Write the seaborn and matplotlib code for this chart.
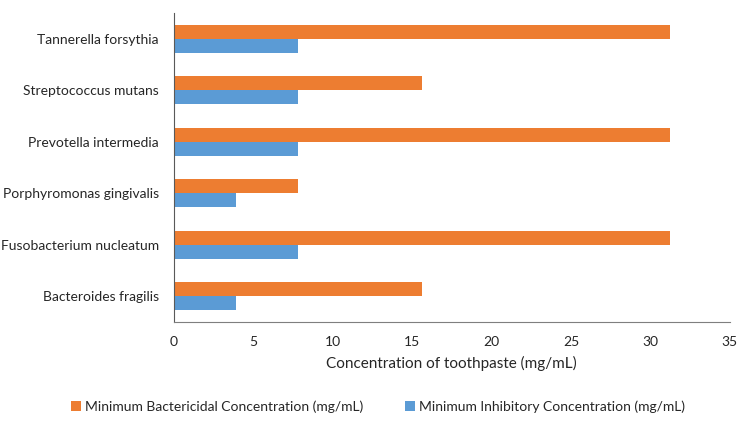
import pandas as pd
import seaborn as sns
import matplotlib.pyplot as plt

# data (top to bottom)
bacteria = ["Tannerella forsythia", "Streptococcus mutans", "Prevotella intermedia",
            "Porphyromonas gingivalis", "Fusobacterium nucleatum", "Bacteroides fragilis"]
mbc = [31.25, 15.6, 31.25, 7.8, 31.25, 15.6]
mic = [7.8, 7.8, 7.8, 3.9, 7.8, 3.9]
mbc_label = "Minimum Bactericidal Concentration (mg/mL)"
mic_label = "Minimum Inhibitory Concentration (mg/mL)"

df = pd.DataFrame({"bacteria": bacteria * 2,
                   "value": mbc + mic,
                   "measure": [mbc_label] * len(bacteria) + [mic_label] * len(bacteria)})

sns.set_style("white")
plt.rcParams['font.family'] = ['Lato', 'DejaVu Sans']

fig = plt.figure(figsize=(7.5, 4.26), dpi=100)
ax = fig.add_axes([0.232, 0.244, 0.741, 0.7255])
sns.barplot(data=df, x="value", y="bacteria", hue="measure", orient="h",
            palette=["#ED7D31", "#5B9BD5"], width=0.54, gap=0, saturation=1,
            linewidth=0, ax=ax, legend=True)

ax.set_xlim(0, 35)
ax.set_xticks(range(0, 36, 5))
ax.set_ylabel("")
ax.set_xlabel("Concentration of toothpaste (mg/mL)", fontsize=11, color="#262626", labelpad=6)
ax.tick_params(axis="both", length=0, labelsize=10, colors="#262626")
ax.tick_params(axis="y", pad=11)
ax.tick_params(axis="x", pad=10)
for s in ["top", "right"]:
    ax.spines[s].set_visible(False)
ax.spines["left"].set_color("#595959")
ax.spines["bottom"].set_color("#7f7f7f")

handles, labels = ax.get_legend_handles_labels()
ax.get_legend().remove()
fig.legend(handles, labels, loc="center", bbox_to_anchor=(0.504, 0.045), ncol=2,
           frameon=False, fontsize=10, handlelength=0.7, handleheight=0.7,
           handletextpad=0.3, columnspacing=3, labelcolor="#262626")

fig.savefig("out.png", dpi=100)
